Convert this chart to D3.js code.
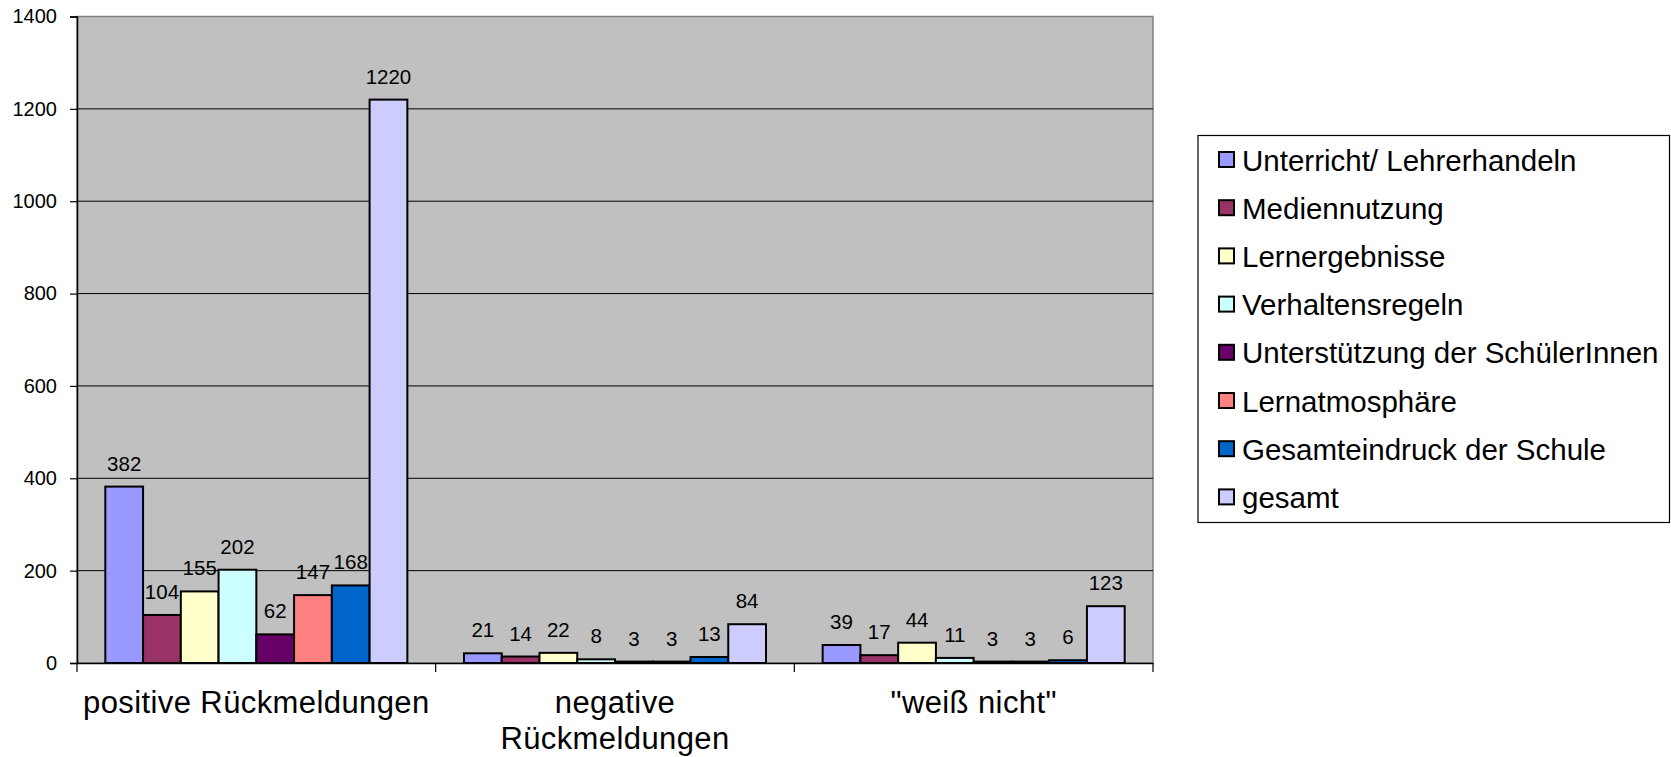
<!DOCTYPE html>
<html><head><meta charset="utf-8">
<script src="https://cdn.jsdelivr.net/npm/d3@7"></script>
<style>body{margin:0;background:#fff;} svg{display:block;font-family:"Liberation Sans",Arial,sans-serif;}</style>
</head><body>
<svg id="c" width="1671" height="757"></svg>
<script>
const categories = ["positive Rückmeldungen", "negative Rückmeldungen", "\"weiß nicht\""];
const categoryLines = [["positive Rückmeldungen"], ["negative", "Rückmeldungen"], ["\"weiß nicht\""]];
const seriesNames = ["Unterricht/ Lehrerhandeln", "Mediennutzung", "Lernergebnisse", "Verhaltensregeln",
  "Unterstützung der SchülerInnen", "Lernatmosphäre", "Gesamteindruck der Schule", "gesamt"];
const unterricht = [382, 21, 39];
const mediennutzung = [104, 14, 17];
const lernergebnisse = [155, 22, 44];
const verhaltensregeln = [202, 8, 11];
const unterstuetzung = [62, 3, 3];
const lernatmosphaere = [147, 3, 3];
const gesamteindruck = [168, 13, 6];
const gesamt = [1220, 84, 123];
const seriesValues = [unterricht, mediennutzung, lernergebnisse, verhaltensregeln, unterstuetzung, lernatmosphaere, gesamteindruck, gesamt];
const colors = ["#9999FF", "#993366", "#FFFFCC", "#CCFFFF", "#660066", "#FF8080", "#0066CC", "#CCCCFF"];
const yTicks = [0, 200, 400, 600, 800, 1000, 1200, 1400];

const svg = d3.select("#c");
const L = 77, R = 1153, T = 16.5, B = 663;

const x0 = d3.scaleBand().domain(categories).range([L, R]).padding(0);
const x1 = d3.scaleBand().domain(seriesNames).range([0, x0.bandwidth()]).paddingInner(0).paddingOuter(0.75);
const y = d3.scaleLinear().domain([0, 1400]).range([B, T]);

// plot background
svg.append("rect").attr("x", L).attr("y", T).attr("width", R - L).attr("height", B - T)
  .attr("fill", "#C0C0C0").attr("stroke", "#808080").attr("stroke-width", 1.5);

// gridlines
svg.append("g").selectAll("line").data(yTicks.filter(d => d > 0 && d < 1400)).join("line")
  .attr("x1", L).attr("x2", R).attr("y1", d => y(d)).attr("y2", d => y(d))
  .attr("stroke", "#000").attr("stroke-width", 1);

// y axis
const yAxis = d3.axisLeft(y).tickValues(yTicks).tickSize(7).tickPadding(13).tickFormat(d3.format("d"));
const gy = svg.append("g").attr("transform", `translate(${L},0)`).call(yAxis);
gy.select(".domain").attr("stroke", "#000").attr("stroke-width", 1.5);
gy.selectAll(".tick line").attr("stroke", "#000").attr("stroke-width", 1.2);
gy.selectAll(".tick text").attr("font-size", 20).attr("fill", "#000")
  .attr("font-family", "Liberation Sans, Arial, sans-serif");

// x axis
const xAxis = d3.axisBottom(x0).tickSize(0).tickFormat("");
const gx = svg.append("g").attr("transform", `translate(0,${B})`).call(xAxis);
gx.select(".domain").attr("stroke", "#000").attr("stroke-width", 1.5);
// category separator ticks
const sepTicks = [L].concat(categories.map(c => x0(c) + x0.bandwidth()));
svg.append("g").selectAll("line").data(sepTicks).join("line")
  .attr("x1", d => d).attr("x2", d => d).attr("y1", B).attr("y2", B + 9)
  .attr("stroke", "#000").attr("stroke-width", 1.2);

// category labels
const catG = svg.append("g");
categories.forEach((c, i) => {
  const t = catG.append("text").attr("x", x0(c) + x0.bandwidth() / 2).attr("y", 713)
    .attr("text-anchor", "middle").attr("font-size", 31).attr("letter-spacing", 0.4).attr("fill", "#000");
  categoryLines[i].forEach((ln, j) => {
    t.append("tspan").attr("x", x0(c) + x0.bandwidth() / 2).attr("dy", j === 0 ? 0 : 35.5).text(ln);
  });
});

// bars
const barData = [];
seriesNames.forEach((s, si) => {
  categories.forEach((c, ci) => barData.push({ s, c, v: seriesValues[si][ci], color: colors[si] }));
});
svg.append("g").selectAll("rect").data(barData).join("rect")
  .attr("x", d => x0(d.c) + x1(d.s))
  .attr("y", d => y(d.v))
  .attr("width", x1.bandwidth())
  .attr("height", d => B - y(d.v))
  .attr("fill", d => d.color)
  .attr("stroke", "#000").attr("stroke-width", 2);

// data labels
svg.append("g").selectAll("text").data(barData).join("text")
  .attr("x", d => x0(d.c) + x1(d.s) + x1.bandwidth() / 2)
  .attr("y", d => y(d.v) - 16)
  .attr("text-anchor", "middle").attr("font-size", 20.5).attr("fill", "#000")
  .text(d => d.v);

// legend
const lg = svg.append("g");
lg.append("rect").attr("x", 1198).attr("y", 135.5).attr("width", 471.5).attr("height", 387)
  .attr("fill", "#fff").attr("stroke", "#000").attr("stroke-width", 1.2);
seriesNames.forEach((s, i) => {
  const cy = 160 + i * 48.2;
  lg.append("rect").attr("x", 1219).attr("y", cy - 8).attr("width", 15).attr("height", 15)
    .attr("fill", colors[i]).attr("stroke", "#000").attr("stroke-width", 2);
  lg.append("text").attr("x", 1242).attr("y", cy + 10.5).attr("font-size", 29.5)
    .attr("fill", "#000").text(s);
});
</script>
</body></html>
